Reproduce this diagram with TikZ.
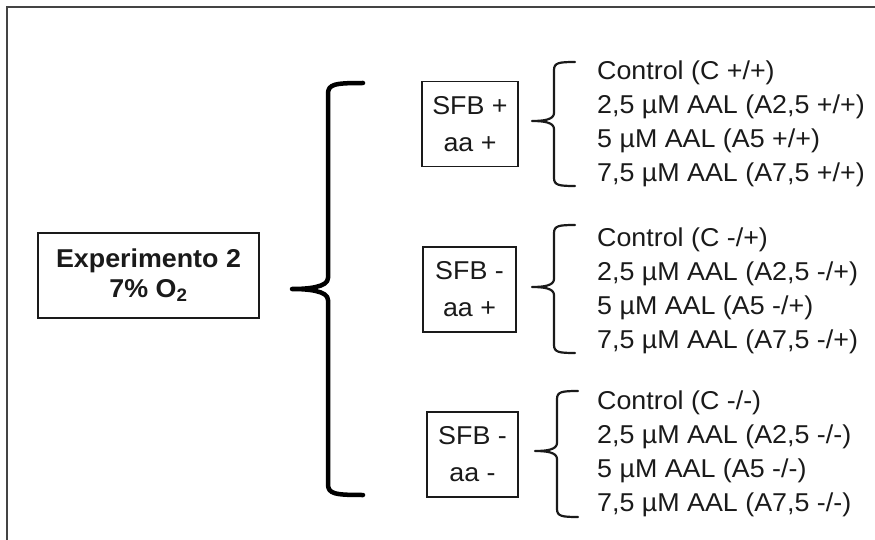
\documentclass[tikz,border=0pt]{standalone}
\usepackage{fontspec}
\setmainfont[FakeStretch=1.04]{Liberation Sans}
\definecolor{ink}{HTML}{1A1A1A}
\definecolor{framegray}{HTML}{444444}
% #1 tip x, #2 tip y, #3 spine x, #4 arm end x, #5 top y, #6 bottom y, #7 corner size
\newcommand\mybracepath[7]{%
  (#4,#5) .. controls ({#3+0.6*#7},#5) and (#3,{#5+0.1*#7}) .. (#3,{#5+#7})
  -- (#3,{#2-#7}) .. controls (#3,{#2-0.15*#7}) and ({#1+1.4*#7},#2) .. (#1,#2)
  .. controls ({#1+1.4*#7},#2) and (#3,{#2+0.15*#7}) .. (#3,{#2+#7})
  -- (#3,{#6-#7}) .. controls (#3,{#6-0.1*#7}) and ({#3+0.6*#7},#6) .. (#4,#6)}
\tikzset{
  txt/.style={font=\fontsize{25.8}{34}\selectfont, text=ink, inner sep=0pt},
  mainbox/.style={draw=ink, line width=1.8pt, align=center, text=ink,
    font=\fontsize{25.8}{30}\selectfont\bfseries, inner sep=0pt},
  sfbbox/.style={draw=ink, line width=1.8pt, align=center, text=ink,
    font=\fontsize{25.8}{37}\selectfont, inner sep=0pt, minimum height=85pt},
  listtxt/.style={txt, align=left, anchor=west},
  bigbrace/.style={draw=black, line width=4.5pt, line cap=round, line join=round},
  smallbrace/.style={draw=ink, line width=2.2pt, line cap=round, line join=round},
  frameline/.style={draw=framegray, line width=2pt}
}
\begin{document}
\begin{tikzpicture}[x=1pt, y=-1pt]
\useasboundingbox[fill=white] (0,0) rectangle (875,540);
\draw[frameline] (6.7,541) -- (6.7,6.7) -- (876,6.7);

\node[mainbox, minimum width=221pt, minimum height=85pt] (exp) at (148.5,275.5)
  {Experimento 2\\7\% O\textsubscript{2}};

\node[sfbbox, minimum width=96pt] (sfb1) at (470,124) {SFB +\\aa +};
\node[sfbbox, minimum width=93pt] (sfb2) at (469.5,289.5) {SFB -\\aa +};
\node[sfbbox, minimum width=91pt] (sfb3) at (472.5,454.5) {SFB -\\aa -};

\node[listtxt] (l1) at (597,123.5) {Control (C +/+)\\2,5 µM AAL (A2,5 +/+)\\5 µM AAL (A5 +/+)\\7,5 µM AAL (A7,5 +/+)};
\node[listtxt] (l2) at (597,291) {Control (C -/+)\\2,5 µM AAL (A2,5 -/+)\\5 µM AAL (A5 -/+)\\7,5 µM AAL (A7,5 -/+)};
\node[listtxt] (l3) at (597,453.5) {Control (C -/-)\\2,5 µM AAL (A2,5 -/-)\\5 µM AAL (A5 -/-)\\7,5 µM AAL (A7,5 -/-)};

\draw[bigbrace] \mybracepath{292}{289}{328}{363}{83}{495}{11};
\draw[smallbrace] \mybracepath{532}{121}{554}{575}{62}{186}{8};
\draw[smallbrace] \mybracepath{532}{287}{554}{575}{225}{353}{8};
\draw[smallbrace] \mybracepath{535}{451}{557}{578}{391}{517}{8};
\end{tikzpicture}
\end{document}
